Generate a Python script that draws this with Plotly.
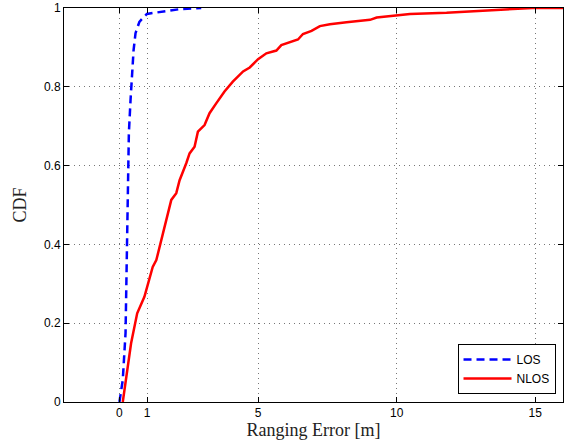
import plotly.graph_objects as go

# LOS ranging error CDF
los_x = [0.0, 0.12, 0.22, 0.26, 0.30, 0.34, 0.40, 0.46, 0.51, 0.58, 0.72, 0.99, 1.45, 2.17, 2.95]
los_y = [0.0, 0.056, 0.175, 0.343, 0.513, 0.683, 0.766, 0.851, 0.893, 0.936, 0.965, 0.985, 0.99, 0.997, 1.0]

# NLOS ranging error CDF
nlos_x = [0.12, 0.24, 0.30, 0.42, 0.64, 0.90, 1.2, 1.33, 1.57, 1.87, 2.05, 2.17, 2.41, 2.53, 2.71,
          2.83, 3.07, 3.25, 3.49, 3.79, 4.09, 4.46, 4.70, 5.0, 5.30, 5.66, 5.84, 6.14, 6.44, 6.62,
          6.93, 7.23, 7.59, 8.19, 9.04, 9.28, 10.0, 10.48, 11.8, 13.0, 14.3, 14.9, 16.0]
nlos_y = [0.0, 0.056, 0.09, 0.149, 0.225, 0.267, 0.343, 0.36, 0.428, 0.513, 0.53, 0.563, 0.606, 0.631, 0.648,
          0.686, 0.703, 0.733, 0.758, 0.788, 0.813, 0.839, 0.849, 0.870, 0.885, 0.892, 0.906, 0.914, 0.920, 0.934,
          0.942, 0.954, 0.959, 0.964, 0.970, 0.976, 0.982, 0.985, 0.988, 0.993, 0.997, 1.0, 1.0]

x_ticks = [0, 1, 5, 10, 15]
y_ticks = [0, 0.2, 0.4, 0.6, 0.8, 1]
y_labels = ["0", "0.2", "0.4", "0.6", "0.8", "1"]

fig = go.Figure()
fig.add_trace(go.Scatter(x=los_x, y=los_y, mode="lines", name="LOS",
                         line=dict(color="#0000ff", width=2.5, dash="8px,5px")))
fig.add_trace(go.Scatter(x=nlos_x, y=nlos_y, mode="lines", name="NLOS",
                         line=dict(color="#ff0000", width=2.5)))

axis_common = dict(
    showline=True, linecolor="black", linewidth=1, mirror="ticks",
    ticks="inside", ticklen=5, tickcolor="black",
    showgrid=True, gridcolor="#777777", griddash="1px,4px", gridwidth=1,
    zeroline=False, automargin=False,
    tickfont=dict(family="Liberation Sans, Arial, sans-serif", size=12, color="black"),
)

fig.update_layout(
    width=572, height=448,
    margin=dict(l=64, r=9, t=8, b=46),
    paper_bgcolor="white", plot_bgcolor="white",
    xaxis=dict(range=[-2, 16], tickvals=x_ticks,
               title=dict(text="Ranging Error [m]", standoff=2,
                          font=dict(family="Liberation Serif, Times New Roman, serif", size=18, color="#222")),
               **axis_common),
    yaxis=dict(range=[0, 1], tickvals=y_ticks, ticktext=y_labels,
               title=dict(text="CDF", standoff=12,
                          font=dict(family="Liberation Serif, Times New Roman, serif", size=18, color="#222")),
               **axis_common),
    legend=dict(x=0.985, y=0.02, xanchor="right", yanchor="bottom",
                bgcolor="white", bordercolor="black", borderwidth=1,
                font=dict(family="Liberation Sans, Arial, sans-serif", size=12, color="black"),
                tracegroupgap=0, itemwidth=48),
    showlegend=True,
)

fig.write_html("out.html", config={"displayModeBar": False},
               post_script="document.body.style.margin='0';")
